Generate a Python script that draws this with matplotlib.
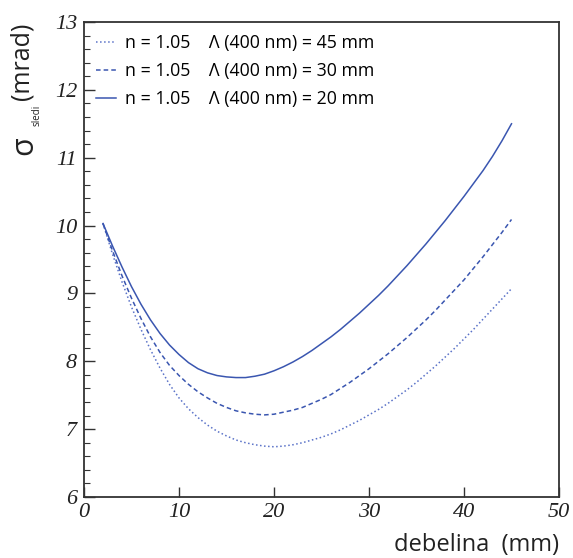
import numpy as np
import matplotlib.pyplot as plt
from matplotlib.ticker import MultipleLocator

# debelina (mm)
debelina = list(range(2, 46))

# sigma_sledi (mrad) for the three Lambda values
sig_45 = [10.03, 9.58, 9.17, 8.80, 8.47, 8.17, 7.90, 7.66, 7.46, 7.30, 7.17, 7.06,
          6.97, 6.90, 6.84, 6.80, 6.77, 6.75, 6.74, 6.75, 6.77, 6.80, 6.84, 6.88,
          6.93, 6.99, 7.06, 7.13, 7.21, 7.29, 7.38, 7.48, 7.58, 7.69, 7.81, 7.93,
          8.06, 8.19, 8.33, 8.47, 8.62, 8.77, 8.92, 9.07]
sig_30 = [10.03, 9.63, 9.26, 8.93, 8.63, 8.36, 8.13, 7.94, 7.79, 7.66, 7.55, 7.46,
          7.38, 7.32, 7.27, 7.24, 7.22, 7.21, 7.22, 7.25, 7.28, 7.32, 7.38, 7.44,
          7.51, 7.60, 7.69, 7.79, 7.89, 8.00, 8.11, 8.23, 8.35, 8.48, 8.61, 8.75,
          8.90, 9.05, 9.20, 9.37, 9.54, 9.72, 9.90, 10.09]
sig_20 = [10.03, 9.70, 9.39, 9.10, 8.84, 8.61, 8.41, 8.24, 8.10, 7.98, 7.89, 7.83,
          7.79, 7.77, 7.76, 7.76, 7.78, 7.81, 7.86, 7.92, 7.99, 8.07, 8.16, 8.26,
          8.36, 8.47, 8.59, 8.71, 8.84, 8.97, 9.11, 9.26, 9.41, 9.57, 9.73, 9.90,
          10.07, 10.25, 10.43, 10.62, 10.81, 11.02, 11.25, 11.50]

labels = ['n = 1.05    \u039b (400 nm) = 45 mm',
          'n = 1.05    \u039b (400 nm) = 30 mm',
          'n = 1.05    \u039b (400 nm) = 20 mm']

xticks = [0, 10, 20, 30, 40, 50]
yticks = [6, 7, 8, 9, 10, 11, 12, 13]

blue = '#3a56b0'
sans = 'Open Sans'
serif = 'Liberation Serif'

W, H = 573, 558
fig = plt.figure(figsize=(W / 100, H / 100), dpi=100)
ax = fig.add_axes([84 / W, 1 - 497 / H, 475 / W, 475 / H])

ax.plot(debelina, sig_45, ':', color='#5a72c8', lw=1.1, label=labels[0])
ax.plot(debelina, sig_30, color=blue, lw=1.1, dashes=(3, 2), label=labels[1])
ax.plot(debelina, sig_20, '-', color=blue, lw=1.1, label=labels[2])

ax.set_xlim(0, 50)
ax.set_ylim(6, 13)
ax.set_xticks(xticks)
ax.set_yticks(yticks)
ax.yaxis.set_minor_locator(MultipleLocator(0.2))

ax.tick_params(which='both', direction='in', top=False, right=False, colors='#333333',
               labelbottom=False, labelleft=False)
ax.tick_params(axis='y', which='major', length=8, width=1)
ax.tick_params(axis='y', which='minor', length=4, width=0.8)
ax.tick_params(axis='x', which='major', length=7, width=1)
for sp in ax.spines.values():
    sp.set_color('#333333')
    sp.set_linewidth(1.3)

# italic serif tick labels, placed at the tick positions
tick_font = dict(family=serif, fontstyle='italic', fontsize=16, color='#222222',
                 textcoords='offset points', annotation_clip=False)
for v in xticks:
    ax.annotate(str(v), (v, 0), xycoords=('data', 'axes fraction'), xytext=(0, -4.5),
                ha='center', va='top', **tick_font)
for v in yticks:
    ax.annotate(str(v), (0, v), xycoords=('axes fraction', 'data'), xytext=(-5, 0),
                ha='right', va='center_baseline', **tick_font)

ax.text(1.0, -0.075, 'debelina  (mm)', transform=ax.transAxes, family=sans, fontsize=17,
        ha='right', va='top', color='#222222')

# y label built from pieces: large sigma, small subscript, then unit
lab = dict(family=sans, color='#222222', rotation=90, rotation_mode='anchor',
           ha='left', va='baseline')
fig.text(32 / W, 1 - 155 / H, '\u03c3', fontsize=22, **lab)
fig.text(40 / W, 1 - 126 / H, 'sledi', fontsize=7, **lab)
fig.text(29 / W, 1 - 100 / H, '(mrad)', fontsize=18, **lab)

leg = ax.legend(loc='upper left', frameon=False, handlelength=1.1, handletextpad=0.5,
                labelspacing=0.56, borderaxespad=0.3, prop={'family': sans, 'size': 12.8})

fig.savefig('out.png', dpi=100)
